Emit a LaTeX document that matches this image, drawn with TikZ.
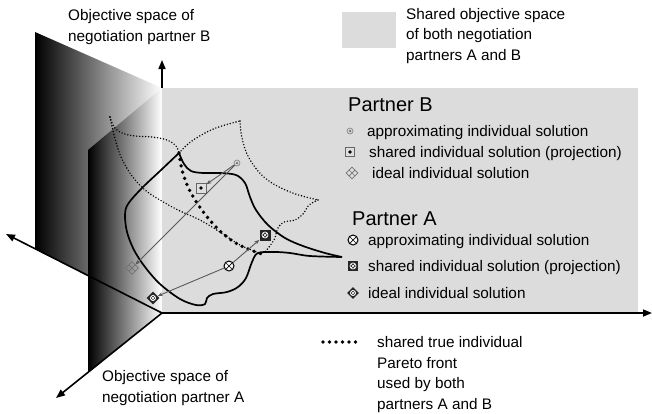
\documentclass[tikz,border=0pt]{standalone}
\usepackage{fontspec}
\setmainfont{Liberation Sans}
\usetikzlibrary{arrows.meta,shapes.geometric}
\definecolor{sharedgray}{RGB}{220,220,220}

\begin{document}
\begin{tikzpicture}[x=1pt,y=-1pt,
  every node/.style={inner sep=0pt},
  txt/.style={anchor=base west,align=left,font=\fontsize{15.3}{20.5}\selectfont},
  head/.style={anchor=base west,font=\fontsize{20}{24}\selectfont},
  axis/.style={line width=1.6pt,-{Triangle[length=9pt,width=7pt]}},
  bound/.style={line width=1.7pt},
  paretofront/.style={line width=3.8pt,line cap=round,dash pattern=on 0pt off 6.5pt},
  regionB/.style={line width=1.6pt,line cap=round,dash pattern=on 0pt off 3pt},
  move/.style={black!65,line width=0.9pt,-{Stealth[length=5pt,width=4pt]}},
  approxB/.style={circle,draw=gray,fill=gray!35,line width=0.6pt,minimum size=6pt,
    path picture={\fill[black!70] (path picture bounding box.center) circle (1pt);}},
  sharedB/.style={rectangle,draw=black!60,fill=gray!25,line width=0.9pt,minimum size=10pt,
    path picture={\fill[black] (path picture bounding box.center) circle (1.8pt);}},
  idealB/.style={diamond,draw=black!55,line width=0.8pt,minimum size=13pt,
    path picture={\draw[black!55,line width=0.7pt]
      ([shift={(-3.25pt,3.25pt)}]path picture bounding box.center) -- ([shift={(3.25pt,-3.25pt)}]path picture bounding box.center)
      ([shift={(3.25pt,3.25pt)}]path picture bounding box.center) -- ([shift={(-3.25pt,-3.25pt)}]path picture bounding box.center);}},
  approxA/.style={circle,draw=black,fill=white,line width=1pt,minimum size=10pt,
    path picture={\draw[line width=0.7pt]
      ([shift={(-3pt,-3pt)}]path picture bounding box.center) -- ([shift={(3pt,3pt)}]path picture bounding box.center)
      ([shift={(-3pt,3pt)}]path picture bounding box.center) -- ([shift={(3pt,-3pt)}]path picture bounding box.center);}},
  sharedA/.style={rectangle,fill=black!85,minimum size=11pt,
    path picture={\draw[white,line width=0.7pt] (path picture bounding box.center) circle (3pt)
      ([shift={(-2pt,-2pt)}]path picture bounding box.center) -- ([shift={(2pt,2pt)}]path picture bounding box.center)
      ([shift={(-2pt,2pt)}]path picture bounding box.center) -- ([shift={(2pt,-2pt)}]path picture bounding box.center);}},
  idealA/.style={diamond,fill=black!85,minimum size=13pt,
    path picture={\draw[white,line width=0.7pt] (path picture bounding box.center) circle (2.6pt)
      ([shift={(-1.8pt,-1.8pt)}]path picture bounding box.center) -- ([shift={(1.8pt,1.8pt)}]path picture bounding box.center)
      ([shift={(-1.8pt,1.8pt)}]path picture bounding box.center) -- ([shift={(1.8pt,-1.8pt)}]path picture bounding box.center);}}]
\useasboundingbox (0,0) rectangle (652,413);

% objective spaces of the two partners
\shade[left color=black,right color=white] (35,32) -- (162,88) -- (162,313) -- (35,249) -- cycle;
\shade[left color=black,right color=white] (88,150) -- (162,88) -- (162,313) -- (88,372) -- cycle;
\fill[sharedgray] (162,88) rectangle (638,313);

\coordinate (O) at (162,313);
\coordinate (ybase) at (162,88);
\coordinate (ytip) at (162,60);
\coordinate (xtip) at (652,313);
\coordinate (btip) at (6,234);
\coordinate (atip) at (56,398);
\draw[axis] (ybase) -- (ytip);

% individual regions
\draw[regionB] plot[smooth,tension=0.6] coordinates {(110,117) (114,127) (122,133) (135,136) (152,137) (167,140) (176,146) (179,153)};
\draw[regionB] plot[smooth,tension=0.6] coordinates {(110,117) (114,135) (121,157) (132,176) (145,190) (160,200) (178,210) (200,220) (220,232) (240,245) (262,254)};
\draw[regionB] plot[smooth,tension=0.6] coordinates {(179,153) (188,144) (198,137) (211,130) (225,125) (240,121)};
\draw[regionB] plot[smooth,tension=0.6] coordinates {(240,121) (242,138) (249,158) (265,178) (290,192) (318,200)};
\draw[regionB] plot[smooth,tension=0.6] coordinates {(318,200) (309,205) (303,214) (295,220) (284,222) (278,228) (274,240) (265,252)};

\draw[bound] plot[smooth,tension=0.55] coordinates {(179,153) (160,171) (142,188) (128,204) (125,215) (127,232) (134,250) (145,267) (160,284) (180,299) (196,305) (205,304) (207,298) (213,294) (227,292) (238,287) (246,278) (252,262) (258,253) (275,252) (290,253) (310,256) (342,257)};
\draw[bound] plot[smooth,tension=0.55] coordinates {(179,153) (184,164) (191,171) (203,173) (220,173) (236,175) (245,183) (250,197) (256,210) (268,225) (285,238) (303,246) (325,253) (342,257)};

\draw[paretofront] plot[smooth] coordinates {(179,153) (182,170) (188,187) (197,203) (208,218) (220,231) (234,242) (248,249) (262,254)};

% solutions
\node[approxB] (aB) at (237,163) {};
\node[sharedB] (sB) at (201,188) {};
\node[idealB] (iB) at (132,268) {};
\node[approxA] (aA) at (229,266) {};
\node[sharedA] (sA) at (265,235) {};
\node[idealA] (iA) at (153,298) {};
\draw[move] (aB) -- (sB);
\draw[move] (aB) -- (iB);
\draw[move] (aA) -- (sA);
\draw[move] (aA) -- (iA);

\draw[axis] (O) -- (xtip);
\draw[axis] (O) -- (btip);
\draw[axis] (O) -- (atip);

% labels (base = last line)
\node[txt] (spaceB) at (68,41) {Objective space of\\negotiation partner B};
\node[txt] (spaceA) at (102,402) {Objective space of\\negotiation partner A};
\node[fill=sharedgray,minimum width=54pt,minimum height=36pt,anchor=north west] (keybox) at (342,12) {};
\node[txt] (keytext) at (406,60) {Shared objective space\\of both negotiation\\partners A and B};

\node[head] (hB) at (348,111) {Partner B};
\node[approxB] (kaB) at (350,131) {};
\node[sharedB,minimum size=9pt] (ksB) at (350,152) {};
\node[idealB,minimum size=12pt] (kiB) at (352,173) {};
\node[txt] (laB) at (367,136) {approximating individual solution};
\node[txt] (lsB) at (369,157) {shared individual solution (projection)};
\node[txt] (liB) at (372,178) {ideal individual solution};

\node[head] (hA) at (352,225) {Partner A};
\node[approxA] (kaA) at (353,240) {};
\node[sharedA,minimum size=10pt] (ksA) at (353,266) {};
\node[idealA,minimum size=12pt] (kiA) at (353,293) {};
\node[txt] (laA) at (368,245) {approximating individual solution};
\node[txt] (lsA) at (368,271) {shared individual solution (projection)};
\node[txt] (liA) at (368,298) {ideal individual solution};

\coordinate (fs) at (323,342);
\coordinate (fe) at (360,342);
\draw[paretofront] (fs) -- (fe);
\node[txt] (lfront) at (377,409) {shared true individual\\Pareto front\\used by both\\partners A and B};
\end{tikzpicture}
\end{document}
